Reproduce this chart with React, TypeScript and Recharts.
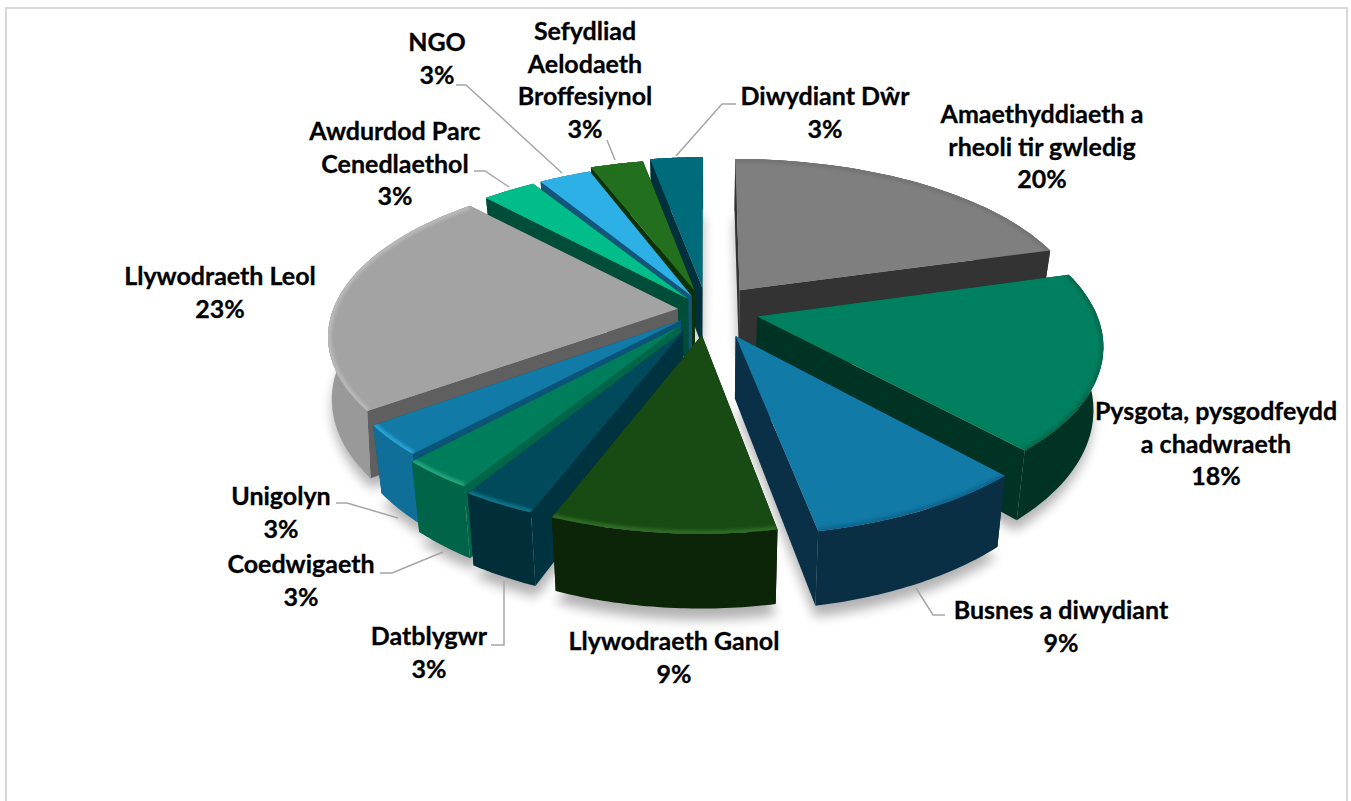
import React from 'react';
import { PieChart, Pie } from 'recharts';

// chart data, clockwise from 12 o'clock
const categories = [
  'Amaethyddiaeth a rheoli tir gwledig',
  'Pysgota, pysgodfeydd a chadwraeth',
  'Busnes a diwydiant',
  'Llywodraeth Ganol',
  'Datblygwr',
  'Coedwigaeth',
  'Unigolyn',
  'Llywodraeth Leol',
  'Awdurdod Parc Cenedlaethol',
  'NGO',
  'Sefydliad Aelodaeth Broffesiynol',
  'Diwydiant Dŵr',
];
const shares = [20.6, 17.6, 8.8, 9, 3, 3, 3, 23, 3, 3, 3, 3];
const labelLines = [
  ['Amaethyddiaeth a', 'rheoli tir gwledig', '20%'],
  ['Pysgota, pysgodfeydd', 'a chadwraeth', '18%'],
  ['Busnes a diwydiant', '9%'],
  ['Llywodraeth Ganol', '9%'],
  ['Datblygwr', '3%'],
  ['Coedwigaeth', '3%'],
  ['Unigolyn', '3%'],
  ['Llywodraeth Leol', '23%'],
  ['Awdurdod Parc', 'Cenedlaethol', '3%'],
  ['NGO', '3%'],
  ['Sefydliad', 'Aelodaeth', 'Broffesiynol', '3%'],
  ['Diwydiant Dŵr', '3%'],
];

// slice explosion as a fraction of the radius, horizontal fit and wall taper of each slice
const explode = [0.16, 0.15, 0.18, 0.155, 0.15, 0.13, 0.1, 0.085, 0.09, 0.1, 0.13, 0.145];
const widthFit = [1.0, 0.98, 0.975, 0.97, 0.965, 0.967, 0.978, 1, 0.975, 0.95, 0.97, 0.965];
const taper = [0.025, 0.025, 0.025, 0.025, 0.025, 0.025, 0.025, 0.01, 0.025, 0.025, 0.025, 0.025];

// top, radial wall, outer wall, rim highlight
const topColors = ['#7f7f7f', '#00805f', '#127aa6', '#184b13', '#004a5c', '#007d5b', '#127aa6', '#a3a3a3', '#00bd8a', '#2db0e6', '#226f1e', '#006b7b'];
const sideColors = ['#333333', '#003324', '#093047', '#0c2408', '#003340', '#00664a', '#0b5477', '#5f5f5f', '#004d39', '#14557a', '#0e3208', '#00303c'];
const wallColors = ['#333333', '#003324', '#0a2f45', '#0c2408', '#002f3a', '#006448', '#106f99', '#999999', '#004d39', '#14557a', '#0e3208', '#00303c'];
const rimColors = ['#747474', '#006b50', '#0d6890', '#2f6b26', '#0d7488', '#22a57e', '#2aa2d6', '#b8b8b8', '#00bd8a', '#2db0e6', '#226f1e', '#006b7b'];

// painter's order, back of the pie first
const drawOrder = [11, 10, 9, 8, 7, 6, 5, 4, 0, 1, 2, 3];

// label layout: centre x, centre y of first line
const labelPos = [
  [1042, 113], [1216, 410], [1061, 609], [674, 640], [429, 635], [301, 563],
  [281, 495], [220, 275], [395, 130], [437, 41], [585, 30], [825, 95],
];
const leaders = [
  null,
  null,
  '916,588 933,615 945,615',
  null,
  '504,581 504,645 491,645',
  '443,552 392,573 380,573',
  '398,518 347,503 336,503',
  null,
  '509,187 485,171 474,171',
  '562,173 466,85 456,85',
  '615,160 607,140',
  '676,156 722,104 736,104',
];

const TILT = 0.458;
const PERSPECTIVE = 0.16;
const DEPTH = 61;

const data = categories.map((name, i) => ({ name, value: shares[i] }));

const sliceIndex = (p: any) => categories.indexOf(p.payload?.name ?? p.name);

const project = (p: any, X: number, Z: number, drop = 0) => {
  const s = 1 / (1 - PERSPECTIVE * Z);
  const R = p.outerRadius;
  const narrow = 1 - taper[sliceIndex(p)] * drop;
  return [p.cx + R * X * s * narrow, p.cy + R * TILT * Z * s + drop * DEPTH * s];
};

const toPath = (pts: number[][]) => 'M' + pts.map((q) => q[0].toFixed(1) + ' ' + q[1].toFixed(1)).join('L') + 'Z';

const geometry = (p: any) => {
  const i = sliceIndex(p);
  const rad = Math.PI / 180;
  const mid = ((p.startAngle + p.endAngle) / 2) * rad;
  const ox = Math.cos(mid) * explode[i];
  const oz = -Math.sin(mid) * explode[i];
  const arc: number[][] = [];
  const steps = 40;
  for (let k = 0; k <= steps; k++) {
    const a = (p.startAngle + ((p.endAngle - p.startAngle) * k) / steps) * rad;
    arc.push([ox + Math.cos(a) * widthFit[i], oz - Math.sin(a)]);
  }
  return { i, apex: [ox, oz], arc };
};

const ShadowShape = (p: any) => {
  const { apex, arc } = geometry(p);
  const pts = [apex, ...arc].map((q) => project(p, q[0], q[1], 1.15));
  return <path d={toPath(pts)} fill="#000" opacity={0.3} style={{ filter: 'blur(6px)' }} />;
};

const SliceShape = (p: any) => {
  const { i, apex, arc } = geometry(p);
  const top = arc.map((q) => project(p, q[0], q[1]));
  const bottom = arc.map((q) => project(p, q[0], q[1], 1));
  const apexTop = project(p, apex[0], apex[1]);
  const apexBottom = project(p, apex[0], apex[1], 1);
  const last = arc.length - 1;
  const topPath = toPath([apexTop, ...top]);
  return (
    <g>
      <clipPath id={'top-face-' + i}>
        <path d={topPath} />
      </clipPath>
      <path d={toPath([apexTop, top[0], bottom[0], apexBottom])} fill={sideColors[i]} />
      <path d={toPath([apexTop, top[last], bottom[last], apexBottom])} fill={sideColors[i]} />
      <path d={toPath([...top, ...[...bottom].reverse()])} fill={wallColors[i]} />
      <path d={topPath} fill={topColors[i]} />
      <g clipPath={'url(#top-face-' + i + ')'}>
        <polyline
          points={top.map((q) => q[0].toFixed(1) + ',' + q[1].toFixed(1)).join(' ')}
          fill="none"
          stroke={rimColors[i]}
          strokeWidth={7}
          style={{ filter: 'blur(1.5px)' }}
        />
      </g>
    </g>
  );
};

const renderLabel = (p: any) => {
  const i = sliceIndex(p);
  const [x, y] = labelPos[i];
  const leader = leaders[i];
  return (
    <g key={i}>
      {leader && <polyline points={leader} fill="none" stroke="#a6a6a6" strokeWidth={1.5} />}
      {labelLines[i].map((line, k) => (
        <text
          key={k}
          x={x}
          y={y + k * 32.7}
          textAnchor="middle"
          dominantBaseline="central"
          fontFamily="Lato, sans-serif"
          fontWeight={700}
          fontSize={25}
          fill="#000"
          stroke="#000"
          strokeWidth={0.3}
        >
          {line}
        </text>
      ))}
    </g>
  );
};

const pieProps = {
  data,
  dataKey: 'value',
  nameKey: 'name',
  cx: 707,
  cy: 310,
  outerRadius: 345,
  startAngle: 90,
  endAngle: -270,
  stroke: 'none',
  isAnimationActive: false,
  rootTabIndex: -1,
};

export default function App() {
  return (
    <div style={{ position: 'absolute', left: 0, top: 0, width: 1351, height: 801, background: '#fff', overflow: 'hidden' }}>
      <div
        style={{
          position: 'absolute',
          left: 5,
          top: 7,
          width: 1339,
          height: 800,
          borderTop: '2px solid #d9d9d9',
          borderLeft: '2px solid #d9d9d9',
          borderRight: '2px solid #d9d9d9',
        }}
      />
      <div style={{ position: 'absolute', left: 0, top: 0 }}>
        <PieChart width={1351} height={801} margin={{ top: 0, right: 0, bottom: 0, left: 0 }}>
          <Pie {...pieProps} shape={ShadowShape} />
          {drawOrder.map((idx) => (
            <Pie
              key={idx}
              {...pieProps}
              shape={(p: any) => (sliceIndex(p) === idx ? <SliceShape {...p} /> : <g />)}
              label={idx === 3 ? renderLabel : false}
              labelLine={false}
            />
          ))}
        </PieChart>
      </div>
    </div>
  );
}
